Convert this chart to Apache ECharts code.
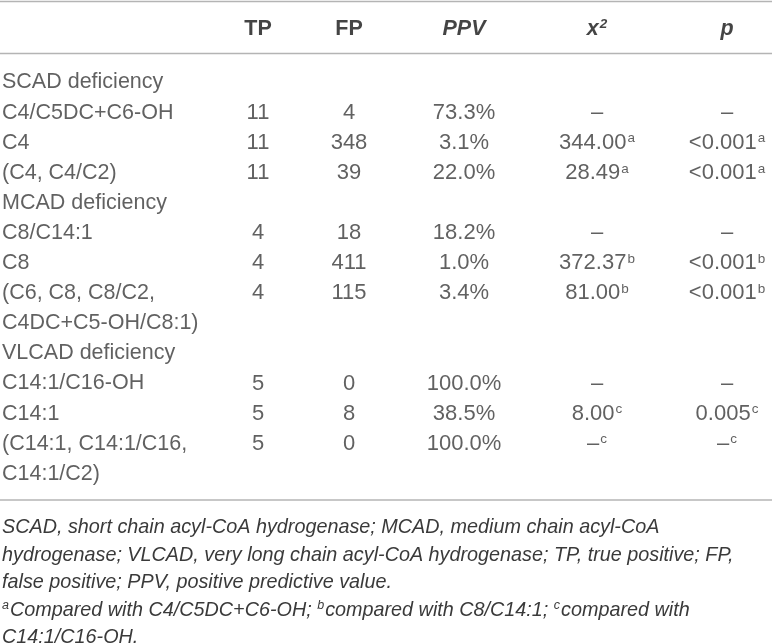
<!DOCTYPE html>
<html>
<head>
<meta charset="utf-8">
<script src="https://cdn.jsdelivr.net/npm/echarts@6.0.0/dist/echarts.min.js"></script>
<style>
html,body{margin:0;padding:0;background:#fff;}
#chart{width:772px;height:644px;}
</style>
</head>
<body>
<div id="chart"></div>
<script>
// ---------------- data ----------------
const headerLabels = ['TP', 'FP', 'PPV', 'x', 'p'];
const headerSups   = ['', '', '', '2', ''];
const rowLabels = [
  'SCAD deficiency', 'C4/C5DC+C6-OH', 'C4', '(C4, C4/C2)',
  'MCAD deficiency', 'C8/C14:1', 'C8', '(C6, C8, C8/C2,', 'C4DC+C5-OH/C8:1)',
  'VLCAD deficiency', 'C14:1/C16-OH', 'C14:1', '(C14:1, C14:1/C16,', 'C14:1/C2)'
];
const tpValues  = [null, 11, 11, 11, null, 4, 4, 4, null, null, 5, 5, 5, null];
const fpValues  = [null, 4, 348, 39, null, 18, 411, 115, null, null, 0, 8, 0, null];
const ppvValues = [null, '73.3%', '3.1%', '22.0%', null, '18.2%', '1.0%', '3.4%', null, null, '100.0%', '38.5%', '100.0%', null];
const chiValues = [null, '–', '344.00', '28.49', null, '–', '372.37', '81.00', null, null, '–', '8.00', '–', null];
const chiSups   = [null, '', 'a', 'a', null, '', 'b', 'b', null, null, '', 'c', 'c', null];
const pValues   = [null, '–', '<0.001', '<0.001', null, '–', '<0.001', '<0.001', null, null, '–', '0.005', '–', null];
const pSups     = [null, '', 'a', 'a', null, '', 'b', 'b', null, null, '', 'c', 'c', null];
const footnoteLines = [
  [['t', 'SCAD, short chain acyl-CoA hydrogenase; MCAD, medium chain acyl-CoA']],
  [['t', 'hydrogenase; VLCAD, very long chain acyl-CoA hydrogenase; TP, true positive; FP,']],
  [['t', 'false positive; PPV, positive predictive value.']],
  [['s', 'a'], ['t', 'Compared with C4/C5DC+C6-OH; '], ['s', 'b'], ['t', 'compared with C8/C14:1; '], ['s', 'c'], ['t', 'compared with']],
  [['t', 'C14:1/C16-OH.']]
];

// ---------------- layout / style ----------------
const FONT = '"Liberation Sans", Arial, Helvetica, sans-serif';
const TEXT = '#3a3a3a';
const HEAD = '#151515';
const RULE = '#b4b4b4';
const COL_X = [258, 349, 464, 597, 727];
const LABEL_X = 2;

const cellRich = {
  v: {fontSize: 22, fontFamily: FONT, color: TEXT, lineHeight: 26, verticalAlign: 'middle'},
  l: {fontSize: 21.5, fontFamily: FONT, color: TEXT, lineHeight: 26, verticalAlign: 'middle'},
  s: {fontSize: 13.5, fontFamily: FONT, color: TEXT, lineHeight: 26, verticalAlign: 'top', padding: [2, 0, 0, 1]}
};
const headRich = {
  h: {fontSize: 21.5, fontFamily: FONT, color: HEAD, fontWeight: 'bold', lineHeight: 26, verticalAlign: 'middle'},
  hi: {fontSize: 21.5, fontFamily: FONT, color: HEAD, fontWeight: 'bold', fontStyle: 'italic', lineHeight: 26, verticalAlign: 'middle'},
  hs: {fontSize: 13.5, fontFamily: FONT, color: HEAD, fontWeight: 'bold', fontStyle: 'italic', lineHeight: 26, verticalAlign: 'top', padding: [1, 0, 0, 1]}
};

function cellText(v, sup) {
  return '{v|' + v + '}' + (sup ? '{s|' + sup + '}' : '');
}

function columnSeries(values, sups, x) {
  const data = [];
  values.forEach((v, i) => {
    if (v === null) return;
    data.push({value: [x, i], label: {formatter: cellText(v, sups ? sups[i] : '')}});
  });
  return {
    type: 'scatter', xAxisIndex: 1, yAxisIndex: 1, symbolSize: 1, silent: true,
    itemStyle: {color: 'rgba(0,0,0,0)'},
    label: {show: true, position: 'inside', align: 'center', verticalAlign: 'middle', rich: cellRich},
    data: data
  };
}

const series = [];
// header row
series.push({
  type: 'scatter', xAxisIndex: 0, yAxisIndex: 0, symbolSize: 1, silent: true,
  itemStyle: {color: 'rgba(0,0,0,0)'},
  label: {show: true, position: 'inside', align: 'center', verticalAlign: 'middle', rich: headRich},
  data: headerLabels.map((h, j) => {
    const italic = j >= 2;
    const txt = '{' + (italic ? 'hi' : 'h') + '|' + h + '}' + (headerSups[j] ? '{hs|' + headerSups[j] + '}' : '');
    return {value: [COL_X[j], 0], label: {formatter: txt}};
  })
});
// row labels
series.push({
  type: 'scatter', xAxisIndex: 1, yAxisIndex: 1, symbolSize: 1, silent: true,
  itemStyle: {color: 'rgba(0,0,0,0)'},
  label: {show: true, position: 'inside', align: 'left', verticalAlign: 'middle', rich: cellRich},
  data: rowLabels.map((t, i) => ({value: [LABEL_X, i], label: {formatter: '{l|' + t + '}'}}))
});
series.push(columnSeries(tpValues, null, COL_X[0]));
series.push(columnSeries(fpValues, null, COL_X[1]));
series.push(columnSeries(ppvValues, null, COL_X[2]));
series.push(columnSeries(chiValues, chiSups, COL_X[3]));
series.push(columnSeries(pValues, pSups, COL_X[4]));

const ROW_H = 30.1;
const FIRST_ROW = 82.5;

const footRich = {
  t: {fontSize: 19.8, fontFamily: FONT, fontStyle: 'italic', color: TEXT, lineHeight: 27.5, verticalAlign: 'middle'},
  s: {fontSize: 12.5, fontFamily: FONT, fontStyle: 'italic', color: TEXT, lineHeight: 27.5, verticalAlign: 'top', padding: [3, 1, 0, 0]}
};
const footText = footnoteLines.map(line => line.map(p => '{' + p[0] + '|' + p[1] + '}').join('')).join('\n');

const chart = echarts.init(document.getElementById('chart'), null, {renderer: 'canvas'});
chart.setOption({
  animation: false,
  backgroundColor: '#ffffff',
  grid: [
    {left: 0, right: 0, top: 14, height: 30},
    {left: 0, right: 0, top: FIRST_ROW - ROW_H / 2, height: ROW_H * rowLabels.length}
  ],
  xAxis: [
    {type: 'value', gridIndex: 0, min: 0, max: 772, show: false},
    {type: 'value', gridIndex: 1, min: 0, max: 772, show: false}
  ],
  yAxis: [
    {type: 'category', gridIndex: 0, data: ['header'], inverse: true, show: false},
    {type: 'category', gridIndex: 1, data: rowLabels.map((_, i) => 'r' + i), inverse: true, show: false}
  ],
  series: series,
  graphic: [
    {type: 'line', shape: {x1: 0, y1: 1.5, x2: 772, y2: 1.5}, style: {stroke: RULE, lineWidth: 1.5}, silent: true},
    {type: 'line', shape: {x1: 0, y1: 53.5, x2: 772, y2: 53.5}, style: {stroke: RULE, lineWidth: 1.5}, silent: true},
    {type: 'line', shape: {x1: 0, y1: 500, x2: 772, y2: 500}, style: {stroke: RULE, lineWidth: 1.5}, silent: true},
    {type: 'text', left: 2, top: 517.5, silent: true, style: {text: footText, rich: footRich, fontSize: 19.8, fontFamily: FONT, fill: TEXT}}
  ]
});
</script>
</body>
</html>
